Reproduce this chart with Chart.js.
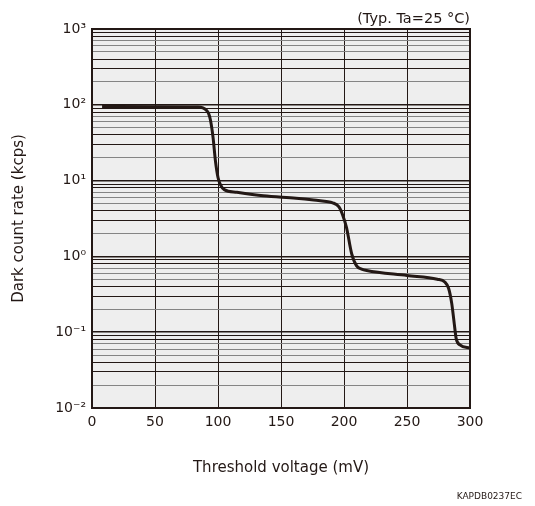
<!DOCTYPE html>
<html>
<head>
<meta charset="utf-8">
<script src="https://cdn.jsdelivr.net/npm/chart.js@4/dist/chart.umd.min.js"></script>
<style>
  html, body { margin: 0; padding: 0; background: #fff; }
  #wrap { width: 535px; height: 506px; }
</style>
</head>
<body>
<div id="wrap"><canvas id="darkChart" width="535" height="506"></canvas></div>
<script>
// Threshold voltage (mV) and dark count rate (kcps)
const thresholdMv = [8, 50, 84, 88, 91, 92.5, 94, 96, 98, 100, 102, 105, 115, 136, 162, 176, 186, 191, 196, 199, 202, 206, 210, 214, 218, 250, 274, 280, 283, 285.5, 287.5, 289, 292, 300];
const darkKcps    = [95, 94.5, 93.5, 91, 84, 77, 63, 38, 18, 11, 8.8, 7.6, 7.0, 6.3, 5.85, 5.55, 5.3, 5.1, 4.5, 3.5, 2.4, 1.1, 0.75, 0.68, 0.65, 0.56, 0.5, 0.46, 0.38, 0.24, 0.13, 0.083, 0.068, 0.062];

// axis ticks
const xTicks = [0, 50, 100, 150, 200, 250, 300];
const yDecadeExps = [-2, -1, 0, 1, 2, 3];
const yMinorSteps = [2, 3, 4, 5, 6, 7, 8, 9];
const darkMinor = [3, 4, 8, 9]; // minor lines that print dark in the original

const noteText = '(Typ. Ta=25 °C)';
const codeText = 'KAPDB0237EC';

const ink = '#231815';
const font = '"DejaVu Sans", sans-serif';
const sup = { '-': '⁻', '0': '⁰', '1': '¹', '2': '²', '3': '³' };

// every log tick: decades plus 2..9 inside each decade
const yTickValues = [];
yDecadeExps.forEach((e, i) => {
  yTickValues.push(Math.pow(10, e));
  if (i < yDecadeExps.length - 1) {
    yMinorSteps.forEach(m => yTickValues.push(m * Math.pow(10, e)));
  }
});

function mantissa(v) {
  const e = Math.floor(Math.log10(v) + 1e-9);
  return Math.round(v / Math.pow(10, e));
}

const plotFrame = {
  id: 'plotFrame',
  beforeDraw(chart) {
    const { ctx, chartArea: a } = chart;
    ctx.save();
    ctx.fillStyle = '#eeeeee';
    ctx.fillRect(a.left, a.top, a.right - a.left, a.bottom - a.top);
    ctx.restore();
  },
  afterDraw(chart) {
    const { ctx, chartArea: a } = chart;
    ctx.save();
    ctx.strokeStyle = ink;
    ctx.lineWidth = 2;
    ctx.strokeRect(a.left, a.top, a.right - a.left, a.bottom - a.top);
    ctx.fillStyle = ink;
    ctx.textAlign = 'right';
    ctx.textBaseline = 'middle';
    ctx.font = '14.5px ' + font;
    ctx.fillText(noteText, a.right, 19);
    ctx.font = '9px ' + font;
    ctx.fillText(codeText, 522, 497);
    ctx.restore();
  }
};

const ctx = document.getElementById('darkChart').getContext('2d');
const chart = new Chart(ctx, {
  type: 'line',
  data: {
    datasets: [{
      data: thresholdMv.map((x, i) => ({ x: x, y: darkKcps[i] })),
      borderColor: ink,
      borderWidth: 3,
      pointRadius: 0,
      fill: false,
      cubicInterpolationMode: 'monotone'
    }]
  },
  options: {
    responsive: false,
    animation: false,
    layout: { padding: { left: 0, right: 65, top: 29, bottom: 0 } },
    plugins: { legend: { display: false }, tooltip: { enabled: false } },
    scales: {
      x: {
        type: 'linear',
        min: 0,
        max: 300,
        afterFit(scale) { scale.height = 98; },
        afterBuildTicks(scale) { scale.ticks = xTicks.map(v => ({ value: v })); },
        grid: { color: ink, lineWidth: 1, drawTicks: false },
        border: { display: false },
        ticks: { color: ink, padding: 6, font: { family: font, size: 14 } },
        title: {
          display: true,
          text: 'Threshold voltage (mV)',
          color: ink,
          font: { family: font, size: 15 },
          padding: { top: 0, bottom: 29 }
        }
      },
      y: {
        type: 'logarithmic',
        min: 0.01,
        max: 1000,
        afterFit(scale) { scale.width = 92; },
        afterBuildTicks(scale) {
          scale.ticks = yTickValues.map(v => ({ value: v, major: mantissa(v) === 1 }));
        },
        grid: {
          drawTicks: false,
          color(c) {
            const m = mantissa(c.tick.value);
            return (m === 1 || darkMinor.includes(m)) ? ink : '#848484';
          },
          lineWidth(c) { return mantissa(c.tick.value) === 1 ? 1.6 : 1; }
        },
        border: { display: false },
        ticks: {
          autoSkip: false,
          color: ink,
          padding: 6,
          font: { family: font, size: 14 },
          callback(value) {
            if (mantissa(value) !== 1) return '';
            const e = Math.round(Math.log10(value));
            return '10' + String(e).split('').map(ch => sup[ch]).join('');
          }
        },
        title: {
          display: true,
          text: 'Dark count rate (kcps)',
          color: ink,
          font: { family: font, size: 15 },
          padding: { top: 10, bottom: 0 }
        }
      }
    }
  },
  plugins: [plotFrame]
});
</script>
</body>
</html>
